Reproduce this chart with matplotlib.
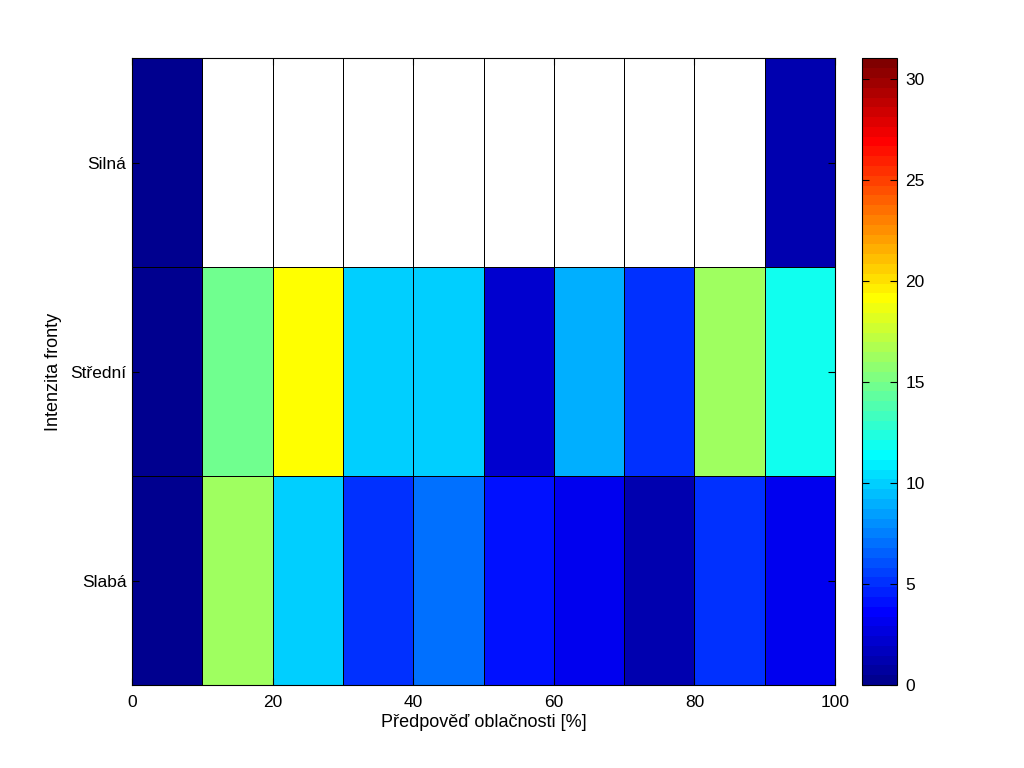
import numpy as np
import matplotlib
matplotlib.use('Agg')
import matplotlib.pyplot as plt
from matplotlib.colors import ListedColormap, Normalize


# Bins of the cloud forecast (%) and front intensity rows (bottom -> top)
cloud_edges = [0, 10, 20, 30, 40, 50, 60, 70, 80, 90, 100]
intensity_labels = ['Slabá', 'Střední', 'Silná']
x_ticks = [0, 20, 40, 60, 80, 100]
cbar_ticks = [0, 5, 10, 15, 20, 25, 30]

# Counts per cell (nan = empty / white cell)
counts_slaba = [0, 16, 10, 5, 7, 4, 3, 1, 5, 3]
counts_stredni = [0, 15, 19, 10, 10, 2, 9, 5, 16, 12]
counts_silna = [0, np.nan, np.nan, np.nan, np.nan, np.nan, np.nan, np.nan,
                np.nan, 1]
color_max = 31


# MATLAB style jet(m) colormap
def matlab_jet(m=64):
    n = int(np.ceil(m / 4))
    u = np.concatenate([np.arange(1, n + 1) / n, np.ones(n - 1),
                        np.arange(n, 0, -1) / n])
    g = int(np.ceil(n / 2)) - (1 if m % 4 == 1 else 0) + np.arange(1, len(u) + 1)
    r = g + n
    b = g - n
    J = np.zeros((m, 3))
    for col, idx in ((0, r), (1, g), (2, b)):
        keep = (idx >= 1) & (idx <= m)
        J[idx[keep] - 1, col] = u[keep]
    return ListedColormap(J)


plt.rcParams['font.family'] = ['Liberation Sans', 'DejaVu Sans']
plt.rcParams['font.size'] = 12.5

fig = plt.figure(figsize=(10.24, 7.68), dpi=100)
ax = fig.add_axes([0.129, 0.108, 0.6865, 0.816])
cax = fig.add_axes([0.842, 0.108, 0.034, 0.816])

data = np.ma.masked_invalid(np.array([counts_slaba, counts_stredni,
                                      counts_silna], dtype=float))
y_edges = np.arange(len(intensity_labels) + 1)

cmap = matlab_jet(64)
norm = Normalize(vmin=0, vmax=color_max)
mesh = ax.pcolormesh(cloud_edges, y_edges, data, cmap=cmap, norm=norm,
                     edgecolors='k', linewidth=0.6)

ax.set_xlim(cloud_edges[0], cloud_edges[-1])
ax.set_ylim(0, len(intensity_labels))
ax.set_xticks(x_ticks)
ax.set_yticks(np.arange(len(intensity_labels)) + 0.5)
ax.set_yticklabels(intensity_labels)
ax.tick_params(direction='in', top=True, right=True, length=5,
               labelsize=12.5)
ax.tick_params(axis='x', pad=7)
ax.tick_params(axis='y', pad=4)
ax.set_xlabel('Předpověď oblačnosti [%]', fontsize=13, labelpad=3)
ax.set_ylabel('Intenzita fronty', fontsize=13, labelpad=6)
for sp in ax.spines.values():
    sp.set_linewidth(0.8)

cb = fig.colorbar(mesh, cax=cax)
cb.set_ticks(cbar_ticks)
cax.tick_params(direction='in', left=True, right=True, length=5,
                labelsize=12.5, pad=6)
cb.outline.set_linewidth(0.8)

fig.savefig('out.png', dpi=100)
